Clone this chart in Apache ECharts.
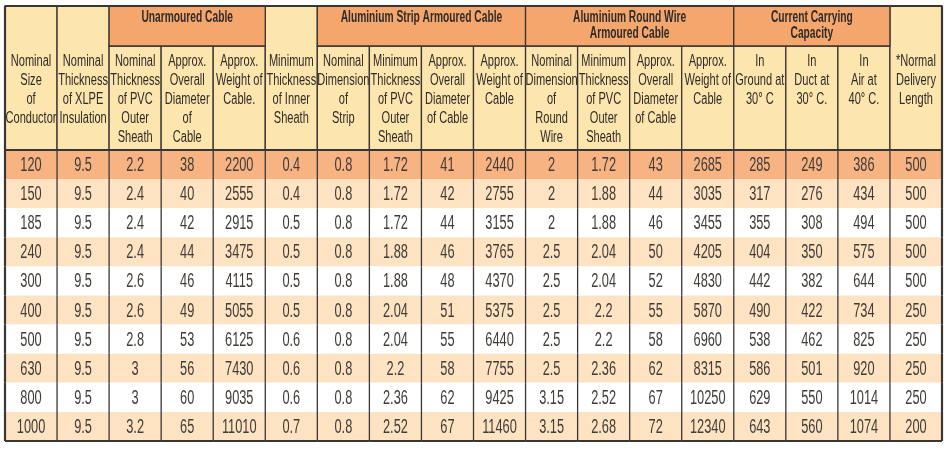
<!DOCTYPE html>
<html>
<head>
<meta charset="utf-8">
<script src="https://cdn.jsdelivr.net/npm/echarts@6/dist/echarts.min.js"></script>
<style>
  html, body { margin: 0; padding: 0; background: #fff; }
  #main { width: 950px; height: 449px; }
</style>
</head>
<body>
<div id="main"></div>
<script>
// column headings (second header row)
var columnLabels = [
  'Nominal\nSize\nof\nConductor',
  'Nominal\nThickness\nof XLPE\nInsulation',
  'Nominal\nThickness\nof PVC\nOuter\nSheath',
  'Approx.\nOverall\nDiameter\nof\nCable',
  'Approx.\nWeight of\nCable.',
  'Minimum\nThickness\nof Inner\nSheath',
  'Nominal\nDimension\nof\nStrip',
  'Minimum\nThickness\nof PVC\nOuter\nSheath',
  'Approx.\nOverall\nDiameter\nof Cable',
  'Approx.\nWeight of\nCable',
  'Nominal\nDimension\nof\nRound\nWire',
  'Minimum\nThickness\nof PVC\nOuter\nSheath',
  'Approx.\nOverall\nDiameter\nof Cable',
  'Approx.\nWeight of\nCable',
  'In\nGround at\n30° C',
  'In\nDuct at\n30° C.',
  'In\nAir at\n40° C.',
  '*Normal\nDelivery\nLength'
];

// grouped headings: name, first column, column after last
var groupNames = ['Unarmoured Cable', 'Aluminium Strip Armoured Cable', 'Aluminium Round Wire\nArmoured Cable', 'Current Carrying\nCapacity'];
var groupStart = [2, 6, 10, 14];
var groupEnd = [5, 10, 14, 17];

// table values, one array per column
var conductorSize = ['120', '150', '185', '240', '300', '400', '500', '630', '800', '1000'];
var xlpeThickness = ['9.5', '9.5', '9.5', '9.5', '9.5', '9.5', '9.5', '9.5', '9.5', '9.5'];
var unarmPvc = ['2.2', '2.4', '2.4', '2.4', '2.6', '2.6', '2.8', '3', '3', '3.2'];
var unarmDiameter = ['38', '40', '42', '44', '46', '49', '53', '56', '60', '65'];
var unarmWeight = ['2200', '2555', '2915', '3475', '4115', '5055', '6125', '7430', '9035', '11010'];
var innerSheath = ['0.4', '0.4', '0.5', '0.5', '0.5', '0.5', '0.6', '0.6', '0.6', '0.7'];
var stripDim = ['0.8', '0.8', '0.8', '0.8', '0.8', '0.8', '0.8', '0.8', '0.8', '0.8'];
var stripPvc = ['1.72', '1.72', '1.72', '1.88', '1.88', '2.04', '2.04', '2.2', '2.36', '2.52'];
var stripDiameter = ['41', '42', '44', '46', '48', '51', '55', '58', '62', '67'];
var stripWeight = ['2440', '2755', '3155', '3765', '4370', '5375', '6440', '7755', '9425', '11460'];
var wireDim = ['2', '2', '2', '2.5', '2.5', '2.5', '2.5', '2.5', '3.15', '3.15'];
var wirePvc = ['1.72', '1.88', '1.88', '2.04', '2.04', '2.2', '2.2', '2.36', '2.52', '2.68'];
var wireDiameter = ['43', '44', '46', '50', '52', '55', '58', '62', '67', '72'];
var wireWeight = ['2685', '3035', '3455', '4205', '4830', '5870', '6960', '8315', '10250', '12340'];
var ampGround = ['285', '317', '355', '404', '442', '490', '538', '586', '629', '643'];
var ampDuct = ['249', '276', '308', '350', '382', '422', '462', '501', '550', '560'];
var ampAir = ['386', '434', '494', '575', '644', '734', '825', '920', '1014', '1074'];
var deliveryLength = ['500', '500', '500', '500', '500', '250', '250', '250', '250', '200'];

var columns = [conductorSize, xlpeThickness, unarmPvc, unarmDiameter, unarmWeight, innerSheath,
  stripDim, stripPvc, stripDiameter, stripWeight, wireDim, wirePvc, wireDiameter, wireWeight,
  ampGround, ampDuct, ampAir, deliveryLength];

var groupColor = '#F4A66C';
var headColor = '#FDE5AE';
var firstRowColor = '#F7B382';
var stripeColor = '#FDE3C2';
var textColor = '#423c38';
var lineColor = '#3a3634';
var bodyFont = '20px "Liberation Sans", Arial, sans-serif';
var headFont = '16px "Liberation Sans", Arial, sans-serif';
var groupFont = 'bold 16px "Liberation Sans", Arial, sans-serif';

// header cells: [x0, y0, x1, y1] in header units (group row 0-40, full 0-144)
var headerCells = [];
var headerInfo = [];
function inGroup(c) {
  for (var g = 0; g < groupStart.length; g++) {
    if (c >= groupStart[g] && c < groupEnd[g]) return true;
  }
  return false;
}
for (var c = 0; c < columnLabels.length; c++) {
  headerCells.push([c, inGroup(c) ? 40 : 0, c + 1, 144]);
  headerInfo.push({ text: columnLabels[c], group: false });
}
for (var g = 0; g < groupNames.length; g++) {
  headerCells.push([groupStart[g], 0, groupEnd[g], 40]);
  headerInfo.push({ text: groupNames[g], group: true });
}

var bodyCells = [];
for (var r = 0; r < conductorSize.length; r++) {
  for (var c2 = 0; c2 < columns.length; c2++) {
    bodyCells.push([c2, r, c2 + 1, r + 1]);
  }
}

var myChart = echarts.init(document.getElementById('main'), null, { renderer: 'canvas' });

var option = {
  animation: false,
  grid: [
    { left: 5, top: 6, width: 937, height: 144 },
    { left: 5, top: 150, width: 937, height: 291 }
  ],
  xAxis: [
    { type: 'value', gridIndex: 0, min: 0, max: 18, show: false },
    { type: 'value', gridIndex: 1, min: 0, max: 18, show: false }
  ],
  yAxis: [
    { type: 'value', gridIndex: 0, min: 0, max: 144, inverse: true, show: false },
    { type: 'value', gridIndex: 1, min: 0, max: 10, inverse: true, show: false }
  ],
  series: [
    {
      type: 'custom',
      xAxisIndex: 0,
      yAxisIndex: 0,
      encode: { x: [0, 2], y: [1, 3] },
      data: headerCells,
      renderItem: function (params, api) {
        var info = headerInfo[params.dataIndex];
        var p0 = api.coord([api.value(0), api.value(1)]);
        var p1 = api.coord([api.value(2), api.value(3)]);
        var textTop = info.group ? api.coord([0, 3])[1] : api.coord([0, 46])[1];
        var kids = [{
          type: 'rect',
          shape: { x: p0[0], y: p0[1], width: p1[0] - p0[0], height: p1[1] - p0[1] },
          style: { fill: info.group ? groupColor : headColor, stroke: lineColor, lineWidth: 1.3 }
        }, {
          type: 'text',
          z2: 10,
          x: (p0[0] + p1[0]) / 2,
          y: textTop,
          scaleX: info.group ? 0.64 : 0.69,
          style: {
            text: info.text,
            x: 0, y: 0,
            align: 'center',
            verticalAlign: 'top',
            font: info.group ? groupFont : headFont,
            lineHeight: info.group ? 16.5 : 19,
            fill: '#2f2b28'
          }
        }];
        var top = api.coord([0, 0])[1];
        var left = api.coord([0, 0])[0];
        var right = api.coord([18, 0])[0];
        if (p0[1] === top) {
          kids.push({ type: 'line', z2: 5, shape: { x1: p0[0], y1: top, x2: p1[0], y2: top }, style: { stroke: lineColor, lineWidth: 2.2 } });
        }
        if (p0[0] === left) {
          kids.push({ type: 'line', z2: 5, shape: { x1: left, y1: p0[1], x2: left, y2: p1[1] }, style: { stroke: lineColor, lineWidth: 2.2 } });
        }
        if (p1[0] === right) {
          kids.push({ type: 'line', z2: 5, shape: { x1: right, y1: p0[1], x2: right, y2: p1[1] }, style: { stroke: lineColor, lineWidth: 2.2 } });
        }
        return { type: 'group', children: kids };
      }
    },
    {
      type: 'custom',
      xAxisIndex: 1,
      yAxisIndex: 1,
      encode: { x: [0, 2], y: [1, 3] },
      data: bodyCells,
      renderItem: function (params, api) {
        var c = api.value(0), r = api.value(1);
        var p0 = api.coord([c, r]);
        var p1 = api.coord([c + 1, r + 1]);
        var fill = r === 0 ? firstRowColor : (r % 2 ? stripeColor : '#ffffff');
        var kids = [{
          type: 'rect',
          shape: { x: p0[0], y: p0[1], width: p1[0] - p0[0], height: p1[1] - p0[1] },
          style: { fill: fill }
        }, {
          type: 'text',
          z2: 10,
          x: (p0[0] + p1[0]) / 2,
          y: (p0[1] + p1[1]) / 2 + 1,
          scaleX: 0.64,
          style: {
            text: columns[c][r],
            x: 0, y: 0,
            align: 'center',
            verticalAlign: 'middle',
            font: bodyFont,
            fill: textColor
          }
        }];
        var w = c > 0 ? 1.3 : 2.2;
        kids.push({ type: 'line', z2: 5, shape: { x1: p0[0], y1: p0[1], x2: p0[0], y2: p1[1] }, style: { stroke: lineColor, lineWidth: w } });
        if (c === columns.length - 1) {
          kids.push({ type: 'line', z2: 5, shape: { x1: p1[0], y1: p0[1], x2: p1[0], y2: p1[1] }, style: { stroke: lineColor, lineWidth: 2.2 } });
        }
        if (r === 0) {
          kids.push({ type: 'line', z2: 5, shape: { x1: p0[0], y1: p0[1], x2: p1[0], y2: p0[1] }, style: { stroke: lineColor, lineWidth: 2 } });
        }
        if (r === conductorSize.length - 1) {
          kids.push({ type: 'line', z2: 5, shape: { x1: p0[0], y1: p1[1], x2: p1[0], y2: p1[1] }, style: { stroke: lineColor, lineWidth: 2.2 } });
        }
        return { type: 'group', children: kids };
      }
    }
  ]
};

myChart.setOption(option);
window.onresize = myChart.resize;
</script>
</body>
</html>
